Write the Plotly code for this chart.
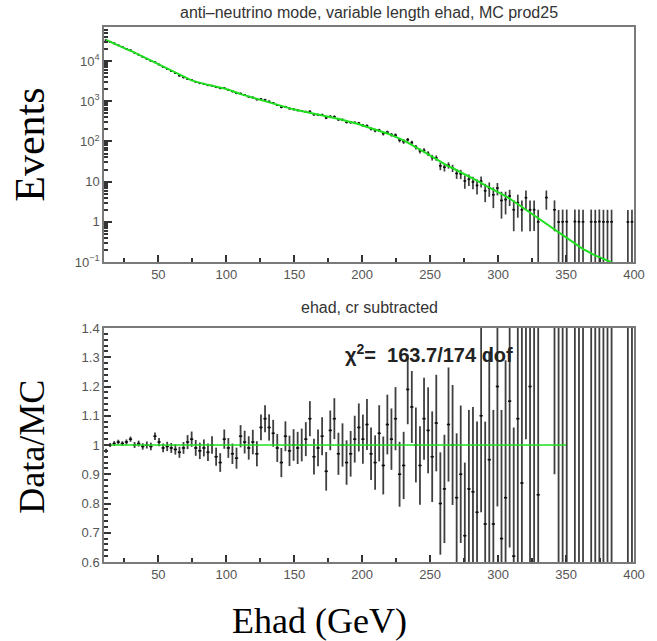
import plotly.graph_objects as go

# ---------------- data ----------------
ehad = [11.5, 14.5, 17.5, 20.5, 23.5, 26.5, 29.5, 32.5, 35.5, 38.5,
        41.5, 44.5, 47.5, 50.5, 53.5, 56.5, 59.5, 62.5, 65.5, 68.5,
        71.5, 74.5, 77.5, 80.5, 83.5, 86.5, 89.5, 92.5, 95.5, 98.5,
        101.5, 104.5, 107.5, 110.5, 113.5, 116.5, 119.5, 122.5, 125.5, 128.5,
        131.5, 134.5, 137.5, 140.5, 143.5, 146.5, 149.5, 152.5, 155.5, 158.5,
        161.5, 164.5, 167.5, 170.5, 173.5, 176.5, 179.5, 182.5, 185.5, 188.5,
        191.5, 194.5, 197.5, 200.5, 203.5, 206.5, 209.5, 212.5, 215.5, 218.5,
        221.5, 224.5, 227.5, 230.5, 233.5, 236.5, 239.5, 242.5, 245.5, 248.5,
        251.5, 254.5, 257.5, 260.5, 263.5, 266.5, 269.5, 272.5, 275.5, 278.5,
        281.5, 284.5, 287.5, 290.5, 293.5, 296.5, 299.5, 302.5, 305.5, 308.5,
        311.5, 314.5, 317.5, 320.5, 323.5, 326.5, 329.5, 332.5, 335.5, 338.5,
        341.5, 344.5, 347.5, 350.5, 353.5, 356.5, 359.5, 362.5, 365.5, 368.5,
        371.5, 374.5, 377.5, 380.5, 383.5, 386.5, 389.5, 392.5, 395.5, 398.5]

# MC prediction (log10 of events per bin)
mc_log10 = [4.53, 4.48, 4.44, 4.39, 4.35, 4.30, 4.26, 4.21, 4.16, 4.11,
            4.06, 4.01, 3.96, 3.91, 3.86, 3.81, 3.76, 3.71, 3.65, 3.60,
            3.55, 3.52, 3.49, 3.46, 3.44, 3.41, 3.39, 3.37, 3.35, 3.32,
            3.29, 3.26, 3.22, 3.18, 3.15, 3.12, 3.09, 3.06, 3.03, 3.00,
            2.97, 2.94, 2.91, 2.88, 2.85, 2.83, 2.80, 2.78, 2.76, 2.73,
            2.71, 2.69, 2.67, 2.65, 2.63, 2.60, 2.58, 2.56, 2.54, 2.51,
            2.49, 2.46, 2.43, 2.39, 2.36, 2.33, 2.30, 2.26, 2.23, 2.20,
            2.16, 2.12, 2.08, 2.03, 1.97, 1.92, 1.86, 1.80, 1.74, 1.68,
            1.62, 1.56, 1.49, 1.43, 1.38, 1.34, 1.29, 1.24, 1.18, 1.13,
            1.07, 1.02, 0.97, 0.91, 0.86, 0.81, 0.76, 0.70, 0.64, 0.58,
            0.51, 0.44, 0.36, 0.29, 0.22, 0.15, 0.08, 0.02, -0.05, -0.12,
            -0.19, -0.26, -0.34, -0.41, -0.48, -0.55, -0.62, -0.68, -0.73, -0.79,
            -0.84, -0.88, -0.92, -0.96, -1.00, -1.05, -1.09, -1.14, -1.18, -1.23]

# Data / MC ratio per bin (None = empty bin)
ratio = [0.98, 1.00, 1.005, 1.01, 1.005, 1.01, 1.02, 1.00, 1.005, 0.995,
         1.00, 0.995, 1.03, 1.01, 0.99, 0.995, 0.99, 0.985, 0.975, 0.99,
         1.01, 1.02, 0.99, 0.98, 0.99, 0.975, 1.00, 0.96, 0.94, 1.02,
         0.99, 0.97, 0.955, 1.03, 1.01, 0.99, 1.01, 0.97, 1.06, 1.09,
         1.06, 1.04, 0.99, 0.94, 1.03, 0.98, 1.00, 0.99, 1.00, 1.02,
         1.09, 0.96, 0.99, 1.03, 0.91, 1.05, 1.09, 0.97, 1.00, 0.94,
         0.97, 1.02, 1.06, 1.02, 1.07, 0.97, 0.94, 1.04, 0.93, 1.07,
         1.02, 1.09, 0.90, 0.93, 1.19, 1.13, 1.00, 0.93, 1.09, 1.05,
         0.96, 1.075, 0.80, 0.85, 1.07, 1.00, 0.82, 0.90, 0.69, 0.85,
         0.84, 0.77, 1.10, 0.73, 0.95, 0.73, 1.20, 0.68, 0.82, 1.15,
         0.62, 1.09, 0.87, 2.05, 1.20, 1.42, 0.83, None, 4.5, None,
         3.1, 1.8, 2.2, 2.6, None, 3.6, 4.2, 4.8, None, 6.2,
         6.9, 7.7, 8.3, 9.1, 10.0, None, None, None, 15.0, 17.0]

ratio_err = [0.007, 0.007, 0.008, 0.008, 0.008, 0.009, 0.009, 0.010, 0.010, 0.011,
             0.012, 0.013, 0.013, 0.014, 0.015, 0.016, 0.017, 0.018, 0.019, 0.020,
             0.024, 0.026, 0.027, 0.028, 0.029, 0.030, 0.030, 0.031, 0.032, 0.033,
             0.034, 0.035, 0.036, 0.038, 0.039, 0.040, 0.042, 0.043, 0.044, 0.046,
             0.045, 0.046, 0.048, 0.050, 0.051, 0.052, 0.054, 0.055, 0.056, 0.058,
             0.060, 0.061, 0.063, 0.065, 0.066, 0.068, 0.070, 0.072, 0.074, 0.076,
             0.078, 0.080, 0.082, 0.084, 0.087, 0.090, 0.093, 0.096, 0.099, 0.102,
             0.105, 0.108, 0.111, 0.115, 0.119, 0.123, 0.128, 0.134, 0.140, 0.147,
             0.155, 0.165, 0.175, 0.185, 0.195, 0.205, 0.22, 0.235, 0.25, 0.27,
             0.29, 0.31, 0.33, 0.35, 0.37, 0.39, 0.41, 0.44, 0.47, 0.50,
             0.44, 0.63, 0.62, 1.03, 0.85, 1.00, 0.83, None, 2.25, None,
             2.2, 1.8, 2.2, 2.6, None, 3.6, 4.2, 4.8, None, 6.2,
             6.9, 7.7, 8.3, 9.1, 10.0, None, None, None, 15.0, 17.0]

ratio_line_x = [10, 350]
ratio_line_y = [1, 1]

top_title = "anti\u2013neutrino mode, variable length ehad, MC prod25"
bottom_title = "ehad, cr subtracted"
chi2_text = "<b>\u03c7<sup>2</sup>=  163.7/174 dof</b>"
log_tickvals = [0.1, 1, 10, 100, 1000, 10000]
log_ticktext = ["10<sup>\u22121</sup>", "1", "10", "10<sup>2</sup>", "10<sup>3</sup>", "10<sup>4</sup>"]

# ---------------- derived quantities ----------------
mc = [10 ** v for v in mc_log10]
data = [r * m if r is not None else None for r, m in zip(ratio, mc)]
data_err = [e * m if e is not None else None for e, m in zip(ratio_err, mc)]
data_err_minus = [min(e, 0.97 * d) if d is not None else None for e, d in zip(data_err, data)]

# minor tick positions for the log axis (2..9 in each decade)
log_minor = [m * 10 ** p for p in range(-1, 5) for m in range(2, 10)]

BAR = "rgba(15,15,15,0.8)"
GREEN = "#1fe01f"
TICKFONT = dict(family="Liberation Sans, Arial, sans-serif", size=13, color="#555")
SMALLFONT = dict(family="Liberation Sans, Arial, sans-serif", size=16, color="#333")
SERIF = "Liberation Serif, Times New Roman, serif"

fig = go.Figure()

# top panel: data
fig.add_trace(go.Scatter(
    x=ehad, y=data, mode="markers", xaxis="x", yaxis="y",
    marker=dict(size=2, color="#111"),
    error_y=dict(type="data", array=data_err, arrayminus=data_err_minus,
                 color=BAR, thickness=1.7, width=0),
    error_x=dict(type="constant", value=1.0, color="#111", thickness=1.5, width=0),
    showlegend=False))
# top panel: MC
fig.add_trace(go.Scatter(
    x=ehad, y=mc, mode="lines", xaxis="x", yaxis="y",
    line=dict(color=GREEN, width=2), showlegend=False))

# bottom panel: ratio
fig.add_trace(go.Scatter(
    x=ehad, y=ratio, mode="markers", xaxis="x2", yaxis="y2",
    marker=dict(size=2, color="#111"),
    error_y=dict(type="data", array=ratio_err, color=BAR, thickness=1.8, width=0),
    error_x=dict(type="constant", value=1.2, color="#111", thickness=1.5, width=0),
    showlegend=False))
fig.add_trace(go.Scatter(
    x=ratio_line_x, y=ratio_line_y, mode="lines", xaxis="x2", yaxis="y2",
    line=dict(color=GREEN, width=1.5), showlegend=False))

axis_common = dict(showline=True, mirror=True, linecolor="#7a7a7a", linewidth=1.5,
                   ticks="inside", tickcolor="#333", tickwidth=1.5,
                   showgrid=False, zeroline=False, tickfont=TICKFONT)

top_dom = [(562 - 262) / 535, 1.0]
bot_dom = [0.0, (562 - 328) / 535]

fig.update_layout(
    width=657, height=641,
    margin=dict(l=104, r=18, t=27, b=79),
    paper_bgcolor="white", plot_bgcolor="white",
    hovermode=False,
    xaxis=dict(domain=[0, 1], anchor="y", range=[10, 400], dtick=50, ticklen=7,
               minor=dict(dtick=25, ticks="inside", ticklen=4, tickcolor="#333"),
               **axis_common),
    yaxis=dict(domain=top_dom, anchor="x", type="log", range=[-1, 4.85],
               tickmode="array", tickvals=log_tickvals, ticktext=log_ticktext, ticklen=8,
               minor=dict(tickmode="array", tickvals=log_minor, ticks="inside",
                          ticklen=4, tickcolor="#333"),
               **axis_common),
    xaxis2=dict(domain=[0, 1], anchor="y2", range=[10, 400], dtick=50, ticklen=7,
                minor=dict(dtick=25, ticks="inside", ticklen=4, tickcolor="#333"),
                **axis_common),
    yaxis2=dict(domain=bot_dom, anchor="x2", range=[0.6, 1.4], dtick=0.1, ticklen=7,
                minor=dict(dtick=0.02, ticks="inside", ticklen=4, tickcolor="#333"),
                **axis_common),
)

def px_x(p):
    return (p - 104) / 535

def px_y(p):
    return (562 - p) / 535

ann = [
    dict(text=top_title, x=0.5, y=px_y(12), font=SMALLFONT),
    dict(text=bottom_title, x=0.5, y=px_y(307), font=SMALLFONT),
    dict(text=chi2_text, x=px_x(345), y=px_y(353), xanchor="left",
         font=dict(family="Liberation Sans, Arial", size=20, color="#222")),
    dict(text="Events", x=px_x(29), y=px_y(145), textangle=-90,
         font=dict(family=SERIF, size=42, color="black")),
    dict(text="Data/MC", x=px_x(31), y=px_y(447), textangle=-90,
         font=dict(family=SERIF, size=36, color="black")),
    dict(text="Ehad (GeV)", x=px_x(322), y=px_y(621),
         font=dict(family=SERIF, size=36, color="black")),
]
for a in ann:
    a.setdefault("xanchor", "center")
    a.setdefault("yanchor", "middle")
    a.update(xref="paper", yref="paper", showarrow=False)
fig.update_layout(annotations=ann)

fig.write_html("out.html", config={"displayModeBar": False},
               post_script="document.body.style.margin='0';document.body.style.overflow='hidden';")
